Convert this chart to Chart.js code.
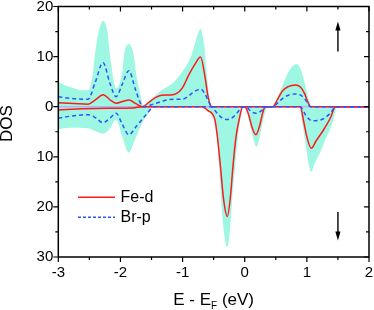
<!DOCTYPE html>
<html><head><meta charset="utf-8">
<script src="https://cdn.jsdelivr.net/npm/chart.js@4/dist/chart.umd.min.js"></script>
<style>html,body{margin:0;padding:0;background:#fff}</style>
</head><body><canvas id="c" width="374" height="310"></canvas>
<script>
// ---- data (energy E - E_F in eV, DOS; spin-down stored as negative) ----
const totalUpE = [-3.0,-2.8,-2.6,-2.52,-2.45,-2.41,-2.35,-2.28,-2.21,-2.17,-2.12,-2.07,-1.97,-1.94,-1.865,-1.79,-1.74,-1.68,-1.62,-1.5,-1.34,-1.15,-0.95,-0.85,-0.78,-0.71,-0.65,-0.62,-0.58,-0.53,0.45,0.55,0.65,0.75,0.83,0.9,0.97,1.03,1.1,2.0];
const totalUpV = [4.9,3.9,3.3,3.3,6,10.5,15,17.1,15,10.5,6,3.7,7,10.5,12.5,10.5,6,2.5,0,1.6,3.3,4.8,8,10.5,13.5,15.5,12,8,3,0,0,2.5,5.5,7.8,8.5,7.5,4.5,1.5,0,0];
const totalDnE = [-3.0,-2.8,-2.52,-2.4,-2.28,-2.18,-2.07,-1.97,-1.865,-1.78,-1.68,-1.58,-1.45,-0.7,-0.6,-0.53,-0.48,-0.44,-0.41,-0.37,-0.33,-0.28,-0.24,-0.2,-0.155,-0.1,-0.06,-0.02,0.0,0.07,0.13,0.19,0.25,0.31,0.37,0.87,0.93,0.98,1.03,1.07,1.12,1.2,1.3,1.41,1.49,2.0];
const totalDnV = [-4.5,-4.2,-4.3,-4.9,-5.4,-4.5,-2.6,-6,-9.2,-7,-4,-1.8,0,0,-0.6,-1.5,-3,-7,-12,-20,-25.5,-28,-25,-18,-12,-5,-1.5,0,0,-2.5,-6,-8,-5.5,-2,0,0,-3.5,-7.5,-11.5,-13,-11.5,-9.5,-6.5,-3.3,0,0];
const feUpE = [-3.0,-2.75,-2.52,-2.4,-2.28,-2.15,-2.07,-1.95,-1.865,-1.75,-1.64,-1.55,-1.45,-1.34,-1.2,-1.1,-1.0,-0.91,-0.8,-0.71,-0.64,-0.59,-0.53,0.45,0.53,0.61,0.7,0.815,0.9,0.96,1.02,1.06,2.0];
const feUpV = [0.8,0.65,0.5,1.4,2.4,1.2,0.7,1.1,1.36,0.6,0,0.8,1.7,2.3,2.35,2.6,3.8,6.1,8.5,9.9,6,2,0,0,1.5,3.2,4.0,4.35,3.9,2.7,0.8,0,0];
const feDnE = [-3.0,-2.6,-2.2,-1.8,-1.64,-0.7,-0.64,-0.58,-0.53,-0.48,-0.44,-0.39,-0.34,-0.28,-0.23,-0.19,-0.14,-0.09,-0.03,0.0,0.06,0.12,0.18,0.24,0.29,0.33,0.895,0.95,1.0,1.07,1.15,1.27,1.38,1.46,2.0];
const feDnV = [-0.65,-0.4,-0.3,-0.25,0,0,-0.3,-0.9,-1.3,-2.6,-6,-12,-18.5,-21.9,-18,-12,-6,-2.6,0,0,-1.5,-4.2,-5.6,-3.8,-1.2,0,0,-3,-6,-8.3,-6.8,-4.6,-2.2,0,0];
const brUpE = [-3.0,-2.75,-2.52,-2.41,-2.28,-2.17,-2.07,-1.97,-1.865,-1.76,-1.66,-1.6,-1.5,-1.4,-1.3,-1.15,-1.0,-0.9,-0.8,-0.71,-0.65,-0.58,-0.53,0.45,0.55,0.65,0.815,0.9,0.97,1.06,2.0];
const brUpV = [2.0,1.6,1.5,4.7,8.8,4.7,2.0,4.5,7.2,3.5,0.3,0,0.4,0.8,1.2,1.5,1.5,2.2,3.1,3.5,2.8,1.0,0,0,1.0,2.0,2.55,2.3,1.5,0,0];
const brDnE = [-3.0,-2.75,-2.52,-2.4,-2.28,-2.17,-2.07,-1.97,-1.865,-1.75,-1.6,-1.45,-0.55,-0.45,-0.37,-0.28,-0.2,-0.12,-0.03,0.01,0.1,0.18,0.26,0.36,0.895,0.98,1.08,1.24,1.37,1.47,2.0];
const brDnV = [-2.3,-1.8,-1.6,-2.2,-3.2,-2.3,-1.3,-3.5,-5.6,-4,-1.8,0,0,-1.2,-2.2,-2.55,-2.2,-1.2,0,0,-0.9,-1.3,-0.9,0,0,-1.66,-2.8,-2.55,-1.4,0,0];
const zeroE = [-3, 2];
const zeroV = [0, 0];
const xTicks = [-3, -2, -1, 0, 1, 2];
const yTicks = [-30, -20, -10, 0, 10, 20];
const legendLabels = ['Fe-d', 'Br-p'];
const spinArrowE = 1.5;
const upArrow = [11, 17];
const downArrow = [-21, -26.7];

const FAM = '"Liberation Sans", Arial, sans-serif';
const CYAN = 'rgb(158,247,226)';
const RED = 'rgb(255,25,25)';
const BLUE = 'rgb(45,85,250)';
const pts = (E, V) => E.map((e, i) => ({x: e, y: V[i]}));

const deco = {
  id: 'deco',
  afterDraw(chart) {
    const {ctx, chartArea: a, scales: {x, y}} = chart;
    ctx.save();
    ctx.strokeStyle = '#000';
    ctx.lineWidth = 1.5;
    ctx.strokeRect(a.left, a.top, a.right - a.left, a.bottom - a.top);
    ctx.lineWidth = 1.2;
    ctx.beginPath();
    const xs = x.ticks.map(t => t.value);
    xs.forEach((v, i) => {
      const px = x.getPixelForValue(v);
      ctx.moveTo(px, a.bottom); ctx.lineTo(px, a.bottom + 5);
      ctx.moveTo(px, a.top); ctx.lineTo(px, a.top + 5);
      if (i < xs.length - 1) {
        const pm = x.getPixelForValue((v + xs[i + 1]) / 2);
        ctx.moveTo(pm, a.bottom); ctx.lineTo(pm, a.bottom + 3);
        ctx.moveTo(pm, a.top); ctx.lineTo(pm, a.top + 3);
      }
    });
    const ys = y.ticks.map(t => t.value);
    ys.forEach((v, i) => {
      const py = y.getPixelForValue(v);
      ctx.moveTo(a.left - 5, py); ctx.lineTo(a.left, py);
      ctx.moveTo(a.right - 5, py); ctx.lineTo(a.right, py);
      if (i < ys.length - 1) {
        const pm = y.getPixelForValue((v + ys[i + 1]) / 2);
        ctx.moveTo(a.left - 3, pm); ctx.lineTo(a.left, pm);
        ctx.moveTo(a.right - 3, pm); ctx.lineTo(a.right, pm);
      }
    });
    ctx.stroke();

    // spin arrows
    const ax = x.getPixelForValue(spinArrowE);
    const arrow = (from, to) => {
      const p0 = y.getPixelForValue(from), p1 = y.getPixelForValue(to);
      const dir = Math.sign(p1 - p0);
      ctx.lineWidth = 1.4;
      ctx.beginPath(); ctx.moveTo(ax, p0); ctx.lineTo(ax, p1 - dir * 6); ctx.stroke();
      ctx.beginPath(); ctx.moveTo(ax, p1); ctx.lineTo(ax - 2.6, p1 - dir * 9); ctx.lineTo(ax + 2.6, p1 - dir * 9); ctx.closePath();
      ctx.fillStyle = '#000'; ctx.fill();
    };
    arrow(upArrow[0], upArrow[1]);
    arrow(downArrow[0], downArrow[1]);

    // legend
    const ds = chart.data.datasets;
    const items = [ds.find(d => d.label === legendLabels[0]), ds.find(d => d.label === legendLabels[1])];
    ctx.font = '16px ' + FAM; ctx.fillStyle = '#000'; ctx.textBaseline = 'middle'; ctx.textAlign = 'left';
    items.forEach((d, i) => {
      const ly = 197.3 + i * 20;
      ctx.strokeStyle = d.borderColor; ctx.lineWidth = 1.5;
      ctx.setLineDash(i === 1 ? [3, 2] : []);
      ctx.beginPath(); ctx.moveTo(78, ly); ctx.lineTo(115, ly); ctx.stroke();
      ctx.setLineDash([]);
      ctx.fillText(d.label, 120.5, ly);
    });

    // axis titles
    ctx.save();
    ctx.translate(7.5, 123.5); ctx.rotate(-Math.PI / 2);
    ctx.font = '17px ' + FAM; ctx.textAlign = 'center'; ctx.textBaseline = 'middle';
    ctx.fillText('DOS', 0, 0);
    ctx.restore();
    ctx.font = '17px ' + FAM;
    const t1 = 'E - E', t3 = ' (eV)';
    const w1 = ctx.measureText(t1).width, w3 = ctx.measureText(t3).width;
    ctx.font = '10px ' + FAM;
    const w2 = ctx.measureText('F').width;
    const total = w1 + w2 + w3;
    const cx = (a.left + a.right) / 2;
    let sx = cx - total / 2;
    ctx.textBaseline = 'alphabetic';
    ctx.font = '17px ' + FAM; ctx.fillText(t1, sx, 305);
    ctx.font = '10px ' + FAM; ctx.fillText('F', sx + w1, 308.5);
    ctx.font = '17px ' + FAM; ctx.fillText(t3, sx + w1 + w2, 305);
    ctx.restore();
  }
};

new Chart(document.getElementById('c'), {
  type: 'line',
  data: {
    datasets: [
      {label: 'total up', data: pts(totalUpE, totalUpV), fill: 'origin', backgroundColor: CYAN, borderWidth: 0, borderColor: CYAN, order: 4},
      {label: 'total down', data: pts(totalDnE, totalDnV), fill: 'origin', backgroundColor: CYAN, borderWidth: 0, borderColor: CYAN, order: 4},
      {label: 'zero', data: pts(zeroE, zeroV), borderColor: 'rgb(185,175,245)', borderWidth: 1.5, fill: false, order: 3},
      {label: 'Fe-d', data: pts(feUpE, feUpV), borderColor: RED, borderWidth: 1.5, fill: false, order: 2},
      {label: 'Fe-d down', data: pts(feDnE, feDnV), borderColor: RED, borderWidth: 1.5, fill: false, order: 2},
      {label: 'Br-p', data: pts(brUpE, brUpV), borderColor: BLUE, borderWidth: 1.5, borderDash: [4, 3], fill: false, order: 1},
      {label: 'Br-p down', data: pts(brDnE, brDnV), borderColor: BLUE, borderWidth: 1.5, borderDash: [4, 3], fill: false, order: 1}
    ]
  },
  options: {
    responsive: false, animation: false, events: [],
    layout: {padding: {left: 0, right: 5, top: 6.5, bottom: 0}},
    plugins: {legend: {display: false}, tooltip: {enabled: false}},
    elements: {point: {radius: 0}, line: {cubicInterpolationMode: 'monotone'}},
    scales: {
      x: {
        type: 'linear', min: xTicks[0], max: xTicks[xTicks.length - 1],
        afterBuildTicks: s => { s.ticks = xTicks.map(v => ({value: v})); },
        ticks: {padding: 7, color: '#000', font: {size: 15, family: FAM}, maxRotation: 0},
        grid: {display: false, drawTicks: false}, border: {display: false},
        afterFit: s => { s.height = 53; s.paddingLeft = 0; s.paddingRight = 0; }
      },
      y: {
        type: 'linear', min: yTicks[0], max: yTicks[yTicks.length - 1],
        afterBuildTicks: s => { s.ticks = yTicks.map(v => ({value: v})); },
        ticks: {padding: 5, color: '#000', font: {size: 15, family: FAM}, callback: v => String(Math.abs(v))},
        grid: {display: false, drawTicks: false}, border: {display: false},
        afterFit: s => { s.width = 58.3; s.paddingTop = 0; s.paddingBottom = 0; }
      }
    }
  },
  plugins: [deco]
});
</script></body></html>
